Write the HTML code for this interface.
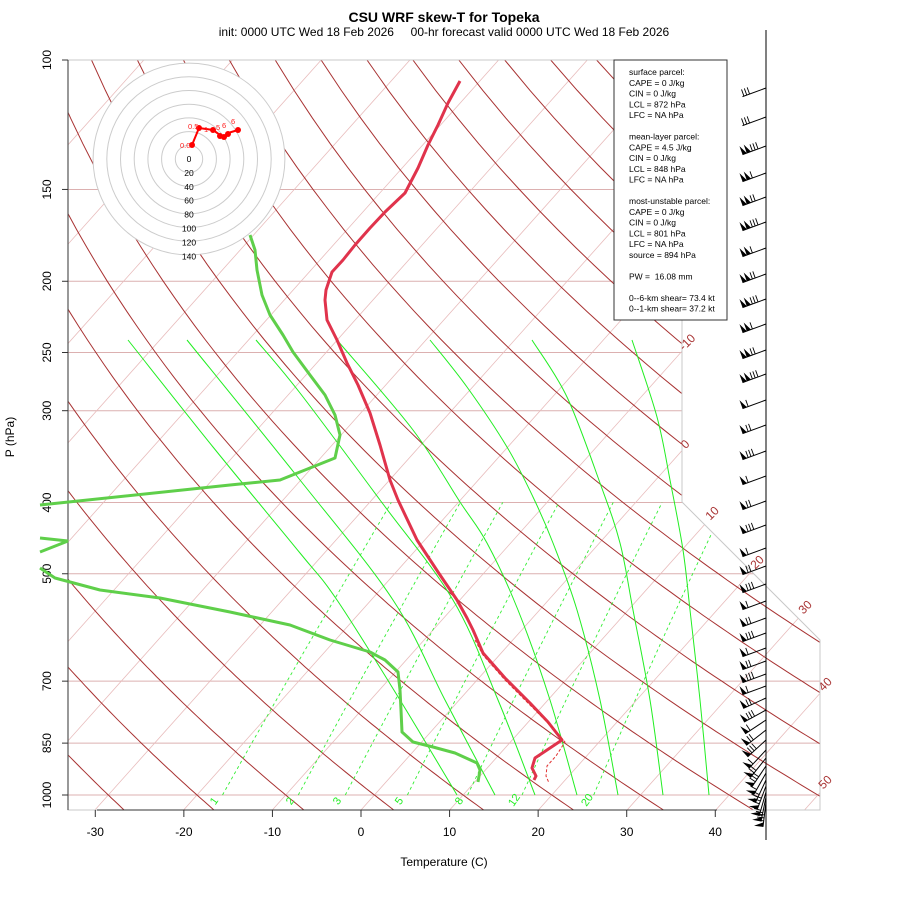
<!DOCTYPE html>
<html><head><meta charset="utf-8"><style>
html,body{margin:0;padding:0;background:#fff;}
svg{display:block;font-family:"Liberation Sans",sans-serif;}
</style></head><body>
<svg id="s" width="900" height="900" viewBox="0 0 900 900" xmlns="http://www.w3.org/2000/svg">
<defs><clipPath id="fr"><polygon points="68,60 682,60 682,502 820,640 820,810 68,810"/></clipPath></defs>
<g id="bg" clip-path="url(#fr)"></g>
<g id="fg"></g>
<text x="444" y="22" text-anchor="middle" font-size="14" font-weight="bold">CSU WRF skew-T for Topeka</text>
<text x="444" y="36" text-anchor="middle" font-size="12" xml:space="preserve">init: 0000 UTC Wed 18 Feb 2026     00-hr forecast valid 0000 UTC Wed 18 Feb 2026</text>
<text x="444" y="866" text-anchor="middle" font-size="12">Temperature (C)</text>
<text transform="translate(14,437) rotate(-90)" text-anchor="middle" font-size="12">P (hPa)</text>
</svg>
<script>
var bg=document.getElementById('bg'),fg=document.getElementById('fg');
function yP(p){return 795-319.2*Math.log(1000/p);}
function xT(T,y){return 361+8.87*T+0.893*(810-y);}
var h='',f='';
function pl(pts,st){return '<polyline fill="none" points="'+pts.map(function(a){return a[0].toFixed(1)+','+a[1].toFixed(1)}).join(' ')+'" '+st+'/>';}
function cr(P,st){var d='M'+P[0][0]+','+P[0][1];for(var i=0;i<P.length-1;i++){var p0=P[i-1]||P[i],p1=P[i],p2=P[i+1],p3=P[i+2]||P[i+1];
 var c1=[p1[0]+(p2[0]-p0[0])/6,p1[1]+(p2[1]-p0[1])/6],c2=[p2[0]-(p3[0]-p1[0])/6,p2[1]-(p3[1]-p1[1])/6];
 d+=' C'+c1[0].toFixed(1)+','+c1[1].toFixed(1)+' '+c2[0].toFixed(1)+','+c2[1].toFixed(1)+' '+p2[0]+','+p2[1];}
 return '<path fill="none" d="'+d+'" '+st+'/>';}
[100,150,200,250,300,400,500,700,850,1000].forEach(function(p){var y=yP(p);h+='<line x1="68" y1="'+y+'" x2="820" y2="'+y+'" stroke="#dcb0b0" stroke-width="1"/>';});
for(var T=-120;T<=50;T+=10){h+=pl([[xT(T,810),810],[xT(T,60),60]],'stroke="#e8bcbc" stroke-width="0.8"');}
for(var th=-40;th<=220;th+=10){var pts=[];for(var p=1060;p>=95;p-=10){var Tk=(th+273.15)*Math.pow(p/1000,0.286)-273.15;var y=yP(p);pts.push([xT(Tk,y),y]);}h+=pl(pts,'stroke="#a83232" stroke-width="1"');}
[[[128,340],[213,447],[300,553],[337,600],[400,700],[457,795]],
 [[187,340],[300,480],[393,600],[445,700],[495,795]],
 [[256,340],[300,393],[380,500],[453,600],[498,700],[535,795]],
 [[337,340],[413,430],[460,502],[487,543],[518,610],[550,700],[577,795]],
 [[430,340],[467,387],[507,447],[533,497],[553,543],[577,610],[600,700],[618,795]],
 [[532,340],[567,397],[600,483],[620,543],[633,610],[650,700],[663,795]],
 [[632,340],[657,417],[670,480],[683,550],[690,610],[700,700],[709,795]]].forEach(function(P){h+=cr(P,'stroke="#22ee22" stroke-width="1"');});
var wl={1:[217,803],2:[293,803],3:[340,803],5:[402,803],8:[462,803],12:[517,802],20:[590,802]};
[1,2,3,5,8,12,20].forEach(function(w){var pts=[];for(var p=1000;p>=400;p-=20){var e=w*p/(622+w);var l=Math.log(e/6.112);var Td=243.5*l/(17.67-l);var y=yP(p);pts.push([xT(Td,y),y]);}
 h+=pl(pts,'stroke="#33ee33" stroke-width="0.9" stroke-dasharray="3,3"');
 var L=wl[w];f+='<text transform="translate('+L[0]+','+L[1]+') rotate(-55)" text-anchor="middle" font-size="11" fill="#22ee22">'+w+'</text>';});
bg.innerHTML=h;
f='<polygon points="68,60 682,60 682,502 820,640 820,810 68,810" fill="none" stroke="#c8c8c8" stroke-width="1"/><line x1="68" y1="60" x2="68" y2="810" stroke="#555" stroke-width="1.2"/>'+f;
[[-10,690,345],[0,688,447],[10,715,516],[20,760,565],[30,808,610],[40,828,687],[50,828,785]].forEach(function(a){f+='<text transform="translate('+a[1]+','+a[2]+') rotate(-45)" text-anchor="middle" font-size="12" fill="#a83232">'+a[0]+'</text>';});
[100,150,200,250,300,400,500,700,850,1000].forEach(function(p){var y=yP(p);f+='<line x1="62" y1="'+y+'" x2="68" y2="'+y+'" stroke="#333"/><text transform="translate(51,'+y+') rotate(-90)" text-anchor="middle" font-size="12">'+p+'</text>';});
f+='<line x1="97" y1="810" x2="717" y2="810" stroke="#333"/>';
for(var t=-30;t<=40;t+=10){var x=361+8.857*t;f+='<line x1="'+x+'" y1="810" x2="'+x+'" y2="817" stroke="#333"/><text x="'+x+'" y="836" text-anchor="middle" font-size="12">'+t+'</text>';}
f+='<circle cx="189" cy="159" r="96" fill="#fff"/>';
for(var k=1;k<=7;k++)f+='<circle cx="189" cy="159" r="'+(13.7*k)+'" fill="none" stroke="#cccccc" stroke-width="1"/>';
for(var k=0;k<=7;k++)f+='<text x="189" y="'+(162+13.9*k)+'" text-anchor="middle" font-size="8.5">'+(k*20)+'</text>';
f+=pl([[192,145],[199,128],[213,130],[220,135],[225,137],[228,133],[238,130]],'stroke="#ff0000" stroke-width="2"');
[[192,145],[199,128],[213,130],[220,136],[224,137],[228,134],[238,130]].forEach(function(a){f+='<circle cx="'+a[0]+'" cy="'+a[1]+'" r="3" fill="#ff0000"/>';});
f+='<g fill="#ff2020" font-size="7.5"><text x="180" y="148">0.0</text><text x="188" y="129">0.5</text><text x="204" y="132">1</text><text x="216" y="130">5</text><text x="222" y="128">6</text><text x="231" y="124">6</text></g>';
var tp=[[460,81],[448,103],[438,125],[428,145],[418,168],[405,193],[385,212],[370,228],[355,245],[343,260],[332,272],[326,290],[325,300],[327,320],[337,340],[347,363],[358,385],[370,413],[380,445],[390,480],[398,500],[417,540],[438,572],[457,600],[467,618],[473,630],[483,653],[505,678],[530,703],[548,722],[562,740],[550,748],[535,758],[532,768],[536,776],[534,780]];
f+=pl(tp,'stroke="#e0334c" stroke-width="3" stroke-linejoin="round"');
f+=pl([[475,640],[483,655],[505,680],[530,705],[552,727],[565,742],[556,756],[547,766],[546,776],[549,783]],'stroke="#e03030" stroke-width="1" stroke-dasharray="3,2"');
var dp=[[250,235],[255,250],[257,270],[262,295],[270,315],[283,335],[293,352],[310,375],[325,395],[335,415],[340,435],[335,458],[280,480],[230,485],[40,505]];
f+=pl(dp,'stroke="#5fcf4a" stroke-width="3" stroke-linejoin="round"');
f+=pl([[40,538],[68,541],[40,552]],'stroke="#5fcf4a" stroke-width="3"');
f+=pl([[40,568],[55,578],[100,590],[160,598],[230,612],[290,625],[330,640],[370,652],[385,660],[398,672],[400,690],[401,710],[402,732],[413,742],[433,747],[455,753],[477,763],[480,770],[478,782]],'stroke="#5fcf4a" stroke-width="3" stroke-linejoin="round"');
f+='<rect x="614" y="60" width="113" height="260" fill="#fff" stroke="#333"/>';
var L=['surface parcel:','CAPE = 0 J/kg','CIN = 0 J/kg','LCL = 872 hPa','LFC = NA hPa','','mean-layer parcel:','CAPE = 4.5 J/kg','CIN = 0 J/kg','LCL = 848 hPa','LFC = NA hPa','','most-unstable parcel:','CAPE = 0 J/kg','CIN = 0 J/kg','LCL = 801 hPa','LFC = NA hPa','source = 894 hPa','','PW =  16.08 mm','','0--6-km shear= 73.4 kt','0--1-km shear= 37.2 kt'];
L.forEach(function(s,i){if(s)f+='<text x="629" y="'+(75+10.75*i)+'" font-size="8.5" xml:space="preserve">'+s+'</text>';});
f+='<line x1="766" y1="30" x2="766" y2="840" stroke="#000"/>';
var by=[88,117,146,173,197,222,248,274,299,324,350,374,400,425,451,476,501,525,548,566,584,601,618,633,648,661,674,686,698,710,720,730,740,750,758,766,773,780,786,792,797,802];
by.forEach(function(y,i){var a=(i<28?20:20+(i-27)*4.5)*Math.PI/180;var len=25;var ex=766-len*Math.cos(a),ey=y+len*Math.sin(a);
 f+='<line x1="766" y1="'+y+'" x2="'+ex.toFixed(1)+'" y2="'+ey.toFixed(1)+'" stroke="#000" stroke-width="1"/>';
 var ux=Math.cos(a),uy=-Math.sin(a);var nx=-Math.sin(a),ny=-Math.cos(a);
 var nf=i<2?0:(i<12?2:1);var nt=i<2?3:(i%3)+1;var pos=0;
 for(var j=0;j<nf;j++){var x0=ex+ux*pos,y0=ey+uy*pos,x1=ex+ux*(pos+4.5),y1=ey+uy*(pos+4.5);f+='<polygon points="'+x0+','+y0+' '+x1+','+y1+' '+(x0+nx*9)+','+(y0+ny*9)+'" fill="#000"/>';pos+=4.5;}
 for(var j=0;j<nt;j++){var x0=ex+ux*(pos+1.5),y0=ey+uy*(pos+1.5);f+='<line x1="'+x0+'" y1="'+y0+'" x2="'+(x0+nx*7)+'" y2="'+(y0+ny*7)+'" stroke="#000" stroke-width="0.9"/>';pos+=3;}
});
fg.innerHTML=f;
</script>
</body></html>
